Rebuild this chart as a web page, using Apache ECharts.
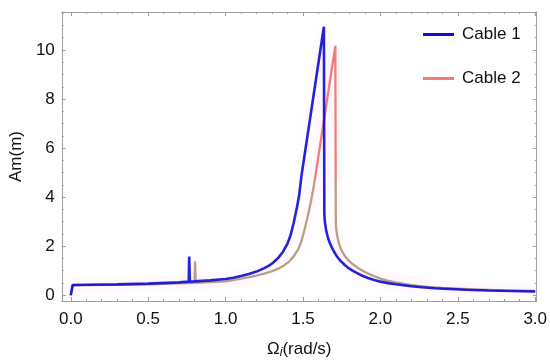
<!DOCTYPE html>
<html><head><meta charset="utf-8">
<script src="https://cdn.jsdelivr.net/npm/echarts@6/dist/echarts.min.js"></script>
<style>html,body{margin:0;padding:0;background:#fff}#c{width:550px;height:364px}</style>
</head><body><div id="c"></div>
<script>
const seriesNames = ['Cable 1', 'Cable 2'];
const cable1 = [[0,0],[0.012,0.41],[0.1,0.42],[0.3,0.44],[0.5,0.47],[0.7,0.52],[0.762,0.55],[0.765,1.57],[0.769,0.55],[0.8,0.56],[0.9,0.6],[1.0,0.66],[1.05,0.71],[1.1,0.78],[1.15,0.86],[1.2,0.96],[1.25,1.1],[1.28,1.2],[1.31,1.34],[1.34,1.52],[1.37,1.76],[1.4,2.1],[1.42,2.45],[1.44,2.95],[1.46,3.55],[1.475,4.06],[1.49,4.86],[1.55,7.38],[1.6,9.48],[1.635,10.95],[1.638,3.27],[1.642,2.95],[1.65,2.62],[1.66,2.38],[1.67,2.18],[1.685,1.96],[1.7,1.78],[1.715,1.62],[1.73,1.49],[1.75,1.35],[1.77,1.23],[1.795,1.1],[1.82,1.0],[1.85,0.9],[1.88,0.8],[1.92,0.7],[1.96,0.62],[2.0,0.55],[2.05,0.49],[2.1,0.44],[2.15,0.4],[2.2,0.36],[2.27,0.32],[2.35,0.28],[2.45,0.25],[2.55,0.22],[2.7,0.19],[2.85,0.17],[3.0,0.15]];
const cable2 = [[0,-0.02],[0.012,0.40],[0.1,0.41],[0.3,0.42],[0.5,0.44],[0.7,0.48],[0.8,0.5],[0.803,1.38],[0.807,0.5],[0.9,0.53],[1.0,0.56],[1.05,0.61],[1.1,0.67],[1.15,0.73],[1.2,0.8],[1.25,0.88],[1.3,0.98],[1.34,1.08],[1.38,1.22],[1.41,1.37],[1.44,1.58],[1.47,1.88],[1.49,2.2],[1.51,2.68],[1.53,3.2],[1.55,3.78],[1.565,4.28],[1.577,4.73],[1.62,6.5],[1.67,8.56],[1.709,10.17],[1.712,3.0],[1.714,2.74],[1.72,2.45],[1.73,2.17],[1.741,1.94],[1.755,1.75],[1.77,1.6],[1.795,1.41],[1.82,1.27],[1.85,1.13],[1.88,1.01],[1.92,0.88],[1.96,0.77],[2.0,0.67],[2.05,0.58],[2.1,0.52],[2.17,0.44],[2.242,0.38],[2.32,0.33],[2.4,0.29],[2.5,0.26],[2.6,0.23],[2.8,0.19],[3.0,0.17]];
const cable2Split = 4.73;
const xMajor = [0,0.5,1.0,1.5,2.0,2.5,3.0];
const xMinor = [0.1,0.2,0.3,0.4,0.6,0.7,0.8,0.9,1.1,1.2,1.3,1.4,1.6,1.7,1.8,1.9,2.1,2.2,2.3,2.4,2.6,2.7,2.8,2.9];
const yMajor = [0,2,4,6,8,10];
const yMinor = [0.5,1,1.5,2.5,3,3.5,4.5,5,5.5,6.5,7,7.5,8.5,9,9.5,10.5,11,11.5];

const X_MIN = -0.058, X_MAX = 3.01, Y_MIN = -0.24, Y_MAX = 11.55;
const FONT = 'Liberation Sans';
const axisCol = '#a0a0a0';
const BLUE = '#0c0cd2', PINK = '#f27c7c', TAN = '#b4a284';

function xAx(pos, vals, len, labels) {
  return {type:'value', position:pos, min:X_MIN, max:X_MAX,
    axisLine:{show:true, onZero:false, lineStyle:{color:axisCol, width:1}},
    axisTick:{show:true, inside:true, length:len, customValues:vals, lineStyle:{color:axisCol}},
    axisLabel:labels ? {show:true, customValues:vals, margin:10, color:'#111', fontSize:17, fontFamily:FONT, formatter:v=>v.toFixed(1)} : {show:false},
    splitLine:{show:false}};
}
function yAx(pos, vals, len, labels) {
  return {type:'value', position:pos, min:Y_MIN, max:Y_MAX,
    axisLine:{show:true, onZero:false, lineStyle:{color:axisCol, width:1}},
    axisTick:{show:true, inside:true, length:len, customValues:vals, lineStyle:{color:axisCol}},
    axisLabel:labels ? {show:true, customValues:vals, margin:7, color:'#111', fontSize:17, fontFamily:FONT} : {show:false},
    splitLine:{show:false}};
}

const xAxes = [xAx('bottom', xMajor, 4, true), xAx('bottom', xMinor, 2, false), xAx('top', xMajor, 4, false), xAx('top', xMinor, 2, false)];
const yAxes = [yAx('left', yMajor, 4, true), yAx('left', yMinor, 2, false), yAx('right', yMajor, 4, false), yAx('right', yMinor, 2, false)];
xAxes[0].name = '{a|Ω}{s|i}{a|(rad/s)}';
xAxes[0].nameLocation = 'middle';
xAxes[0].nameGap = 38;
xAxes[0].nameTextStyle = {rich:{a:{fontSize:17, fontFamily:FONT, color:'#111'}, s:{fontSize:12, fontFamily:FONT, fontStyle:'italic', color:'#111', verticalAlign:'bottom', padding:[8,0,0,0]}}};
yAxes[0].name = 'Am(m)';
yAxes[0].nameLocation = 'middle';
yAxes[0].nameGap = 32;
yAxes[0].nameTextStyle = {fontSize:17, fontFamily:FONT, color:'#111'};

const chart = echarts.init(document.getElementById('c'), null, {renderer:'canvas'});
const glow = {shadowColor:'rgba(255,120,220,0.2)', shadowBlur:10};
chart.setOption({
  animation:false,
  backgroundColor:'#fff',
  grid:{left:57, right:13, top:12, bottom:56, containLabel:false},
  xAxis:xAxes,
  yAxis:yAxes,
  legend:{orient:'vertical', left:418, top:21, itemWidth:31, itemHeight:3, itemGap:27, icon:'rect',
    textStyle:{fontSize:17, fontFamily:FONT, color:'#111', padding:[0,0,0,3]},
    data:[{name:seriesNames[0], itemStyle:{color:BLUE}},
          {name:seriesNames[1], itemStyle:{color:PINK}}]},
  series:[
    {name:seriesNames[0], type:'line', data:cable1, symbol:'none', xAxisIndex:0, yAxisIndex:0, z:4,
      color:BLUE, lineStyle:Object.assign({color:BLUE, width:2.6, opacity:0.9}, glow)},
    {name:seriesNames[1], type:'line', data:cable2, symbol:'none', xAxisIndex:0, yAxisIndex:0, z:3,
      color:PINK, lineStyle:Object.assign({color:PINK, width:2.3}, glow)}
  ]
});
// Colour split of Cable 2 at a data value, converted to pixels through the y scale
const yTop = chart.convertToPixel({yAxisIndex:0}, Y_MAX);
const yBot = chart.convertToPixel({yAxisIndex:0}, Y_MIN);
const ySplit = chart.convertToPixel({yAxisIndex:0}, cable2Split);
const f = (ySplit - yTop) / (yBot - yTop);
chart.setOption({series:[{}, {lineStyle:{color:new echarts.graphic.LinearGradient(0, yTop, 0, yBot, [
  {offset:0, color:PINK}, {offset:f, color:PINK}, {offset:f, color:TAN}, {offset:1, color:TAN}], true)}}]});
</script></body></html>
